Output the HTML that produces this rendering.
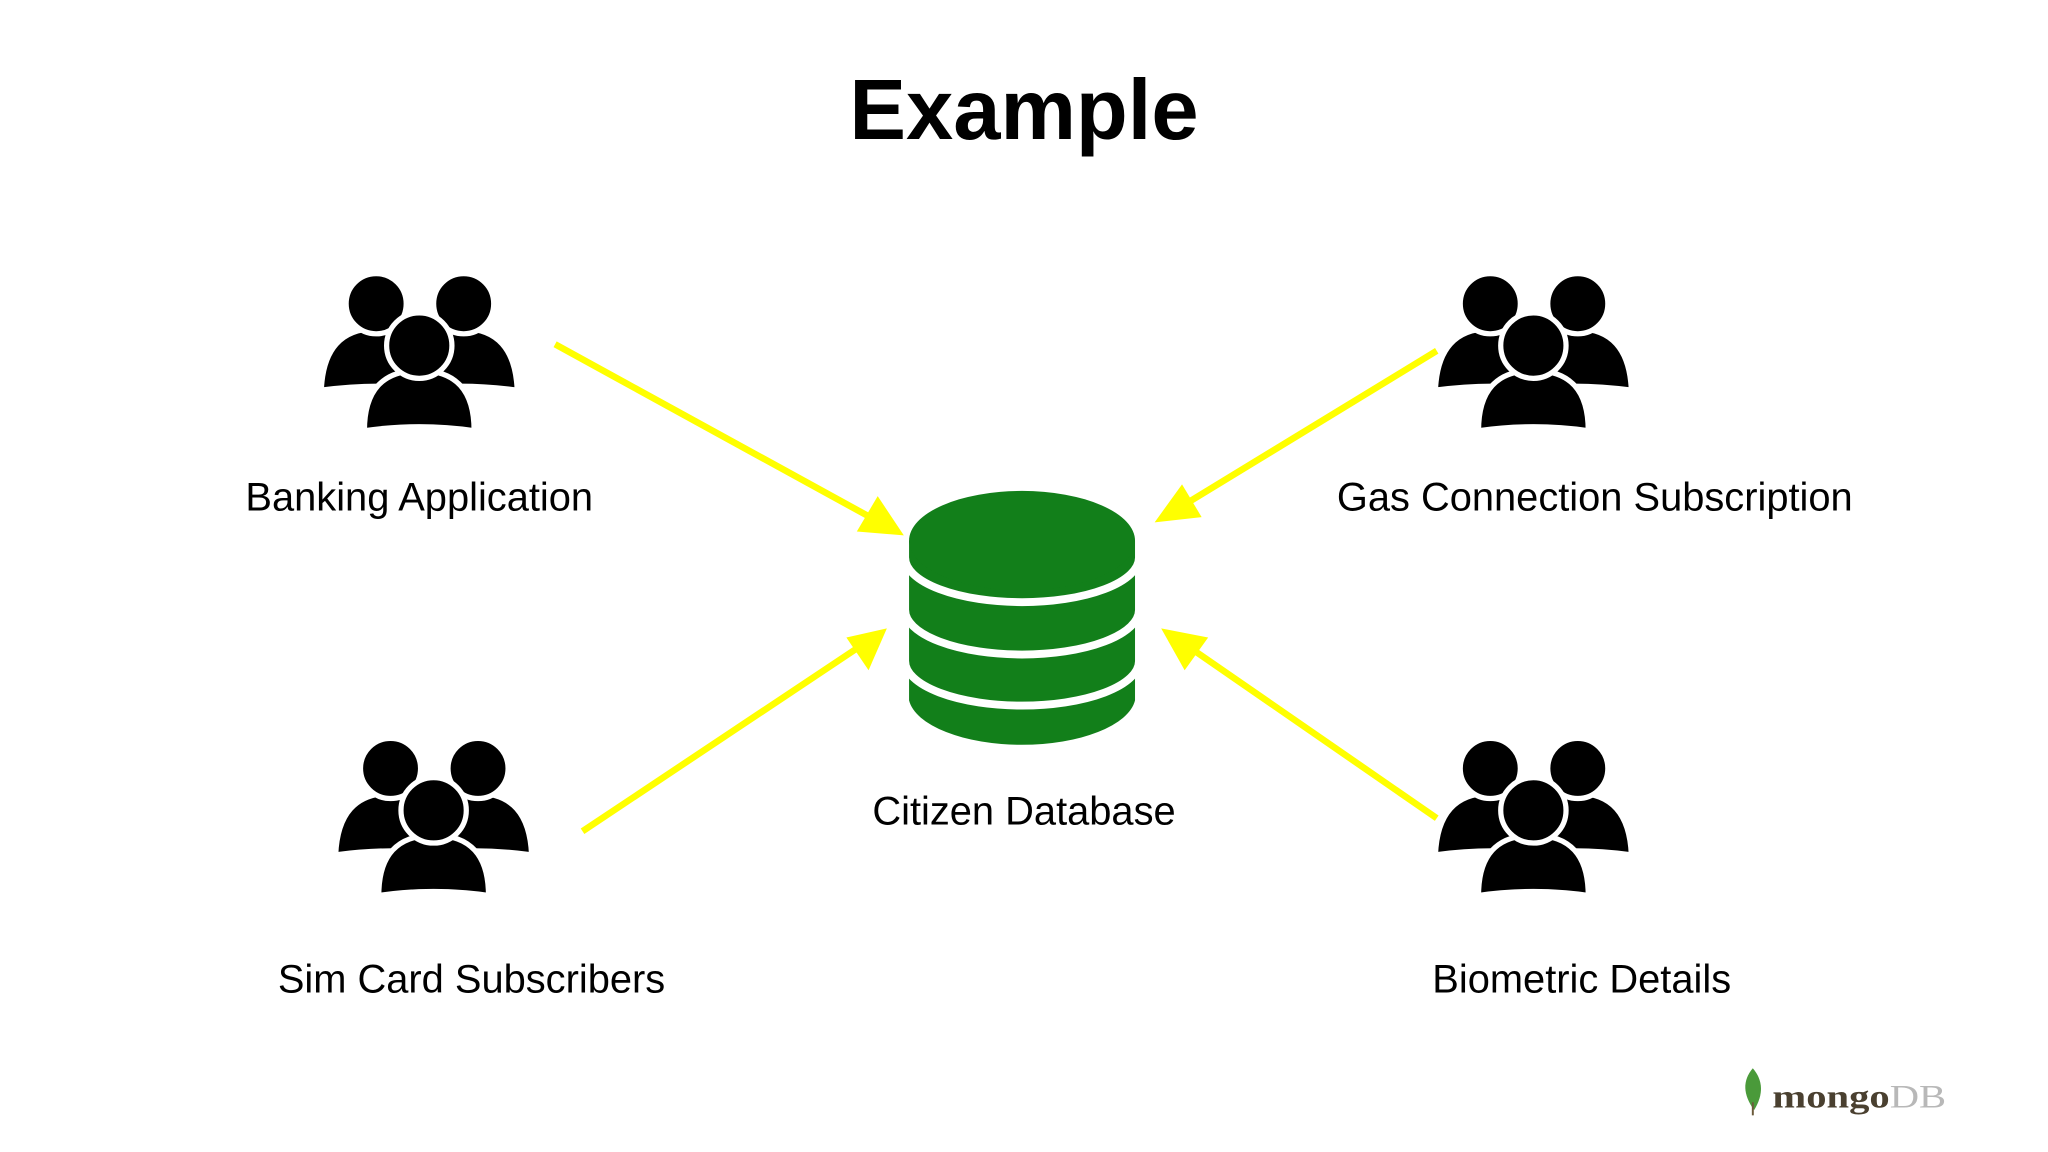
<!DOCTYPE html>
<html><head><meta charset="utf-8"><style>
html,body{margin:0;padding:0;background:#fff;}
svg{display:block}
</style></head><body>
<svg width="2048" height="1152" viewBox="0 0 1568 880" preserveAspectRatio="none" xmlns="http://www.w3.org/2000/svg">
<defs>
<g id="ppl">
  <path d="M-75,28 Q-73,-19 -33,-19 Q7,-19 9,28 Q-30,22 -75,28 Z" fill="#000" stroke="#fff" stroke-width="4"/>
  <path d="M75,28 Q73,-19 33,-19 Q-7,-19 -9,28 Q30,22 75,28 Z" fill="#000" stroke="#fff" stroke-width="4"/>
  <circle cx="-33" cy="-38" r="23" fill="#000" stroke="#fff" stroke-width="4"/>
  <circle cx="34" cy="-38" r="23" fill="#000" stroke="#fff" stroke-width="4"/>
  <path d="M-42,59 Q-42,13 0,13 Q42,13 42,59 Q0,53 -42,59 Z" fill="#000" stroke="#fff" stroke-width="4"/>
  <circle cx="0" cy="-6" r="25" fill="#000" stroke="#fff" stroke-width="4"/>
</g>
</defs>
<rect width="1568" height="880" fill="#fff"/>
<text x="784" y="106" text-anchor="middle" font-family="Liberation Sans, sans-serif" font-weight="bold" font-size="65" fill="#000">Example</text>

<use href="#ppl" x="321" y="270"/>
<use href="#ppl" x="1174" y="270"/>
<use href="#ppl" x="332" y="625"/>
<use href="#ppl" x="1174" y="625"/>

<g font-family="Liberation Sans, sans-serif" font-size="30.5" fill="#000" text-anchor="middle">
<text x="321" y="390">Banking Application</text>
<text x="1221" y="390">Gas Connection Subscription</text>
<text x="361" y="758">Sim Card Subscribers</text>
<text x="1211" y="758">Biometric Details</text>
<text x="784" y="630">Citizen Database</text>
</g>

<g stroke="#ffff00" stroke-width="5" fill="#ffff00">
<line x1="425" y1="263" x2="668" y2="396"/>
<polygon points="692,409 656,406 672,379" stroke="none"/>
<line x1="1100" y1="268" x2="906" y2="386"/>
<polygon points="884,399 905,370 920,395" stroke="none"/>
<line x1="446" y1="635" x2="658" y2="494"/>
<polygon points="679,480 665,512 648,487" stroke="none"/>
<line x1="1100" y1="625" x2="910" y2="494"/>
<polygon points="889,480 925,487 907,512" stroke="none"/>
</g>

<g>
<path d="M696,413 L696,535 A87,38 0 0 0 869,535 L869,413 Z" fill="#127f1a"/>
<ellipse cx="782.5" cy="413" rx="86.5" ry="38" fill="#127f1a"/>
<g fill="none" stroke="#fff" stroke-width="6">
<path d="M693,426 A89.5,34 0 0 0 872,426"/>
<path d="M693,466 A89.5,34 0 0 0 872,466"/>
<path d="M693,505 A89.5,34 0 0 0 872,505"/>
</g>
</g>

<path d="M1342,816 Q1354,830 1343,848 Q1330,830 1342,816 Z" fill="#4a9a3a"/>
<line x1="1342" y1="842" x2="1342" y2="852" stroke="#6b5a3a" stroke-width="1.5"/>
<text x="1357" y="846" font-family="Liberation Serif, serif" font-weight="bold" font-size="25" fill="#4a4030" textLength="133" lengthAdjust="spacingAndGlyphs">mongo<tspan fill="#b8b8b8" font-weight="normal">DB</tspan></text>
</svg>
</body></html>
